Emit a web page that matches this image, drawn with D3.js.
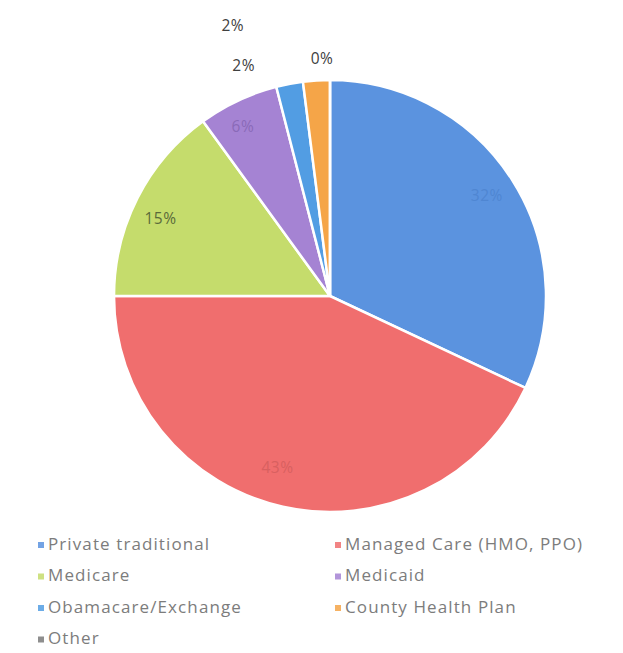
<!DOCTYPE html>
<html><head><meta charset="utf-8">
<script src="https://cdn.jsdelivr.net/npm/d3@7"></script>
<style>body{margin:0;background:#fff}svg{display:block}</style>
</head><body>
<script>
const categories = ["Private traditional","Managed Care (HMO, PPO)","Medicare","Medicaid","Obamacare/Exchange","County Health Plan","Other"];
const values = [32, 43, 15, 6, 2, 2, 0];
const colors = ["#5b93df","#f06e6e","#c5dc6c","#a583d3","#529de3","#f5a548","#7a7a7a"];
const labelColors = ["#4f86d2","#d86060","#5a6a3a","#8a6ab8","#404040","#404040","#404040"];

const W = 623, H = 653;
const svg = d3.select("body").append("svg").attr("width", W).attr("height", H);
const cx = 330, cy = 296, R = 216;
const pie = d3.pie().sort(null).value(d => d)(values);
const arc = d3.arc().innerRadius(0).outerRadius(R);
const g = svg.append("g").attr("transform", `translate(${cx},${cy})`);
g.selectAll("path").data(pie).enter().append("path")
  .attr("d", arc).attr("fill", (d,i) => colors[i])
  .attr("stroke", "#fff").attr("stroke-width", 2.5);

// labels
const inner = d3.arc().innerRadius(R*0.86).outerRadius(R*0.86);
const outer = d3.arc().innerRadius(R*1.12).outerRadius(R*1.12);
const total = d3.sum(values);
const adj = [[0,0],[-12,-8],[-4,8],[-8,0],[-41,8],[-82,-28],[-8,6]];
g.selectAll("text").data(pie).enter().append("text")
  .attr("transform", (d,i) => {
    const p = (values[i]/total < 0.05 ? outer : inner).centroid(d);
    return `translate(${p[0]+adj[i][0]},${p[1]+adj[i][1]})`;
  })
  .attr("text-anchor","middle").attr("dominant-baseline","middle")
  .attr("font-family","Open Sans, sans-serif").attr("font-size", 15.5)
  .attr("letter-spacing", 0.5)
  .attr("fill", (d,i) => labelColors[i])
  .text((d,i) => Math.round(values[i]/total*100) + "%");

// legend
const lg = svg.append("g").attr("font-family","Open Sans, sans-serif").attr("font-size",17)
  .attr("letter-spacing", 1.1).attr("fill","#7c7c7c");
categories.forEach((c,i) => {
  const col = i % 2, row = Math.floor(i/2);
  const x = col ? 335 : 38, y = 545 + row*31.5;
  lg.append("rect").attr("x", x).attr("y", y-3).attr("width", 6).attr("height", 6).attr("fill", colors[i]).attr("opacity", 0.85);
  lg.append("text").attr("x", x+10).attr("y", y).attr("dominant-baseline","middle").text(c);
});
</script>
</body></html>
